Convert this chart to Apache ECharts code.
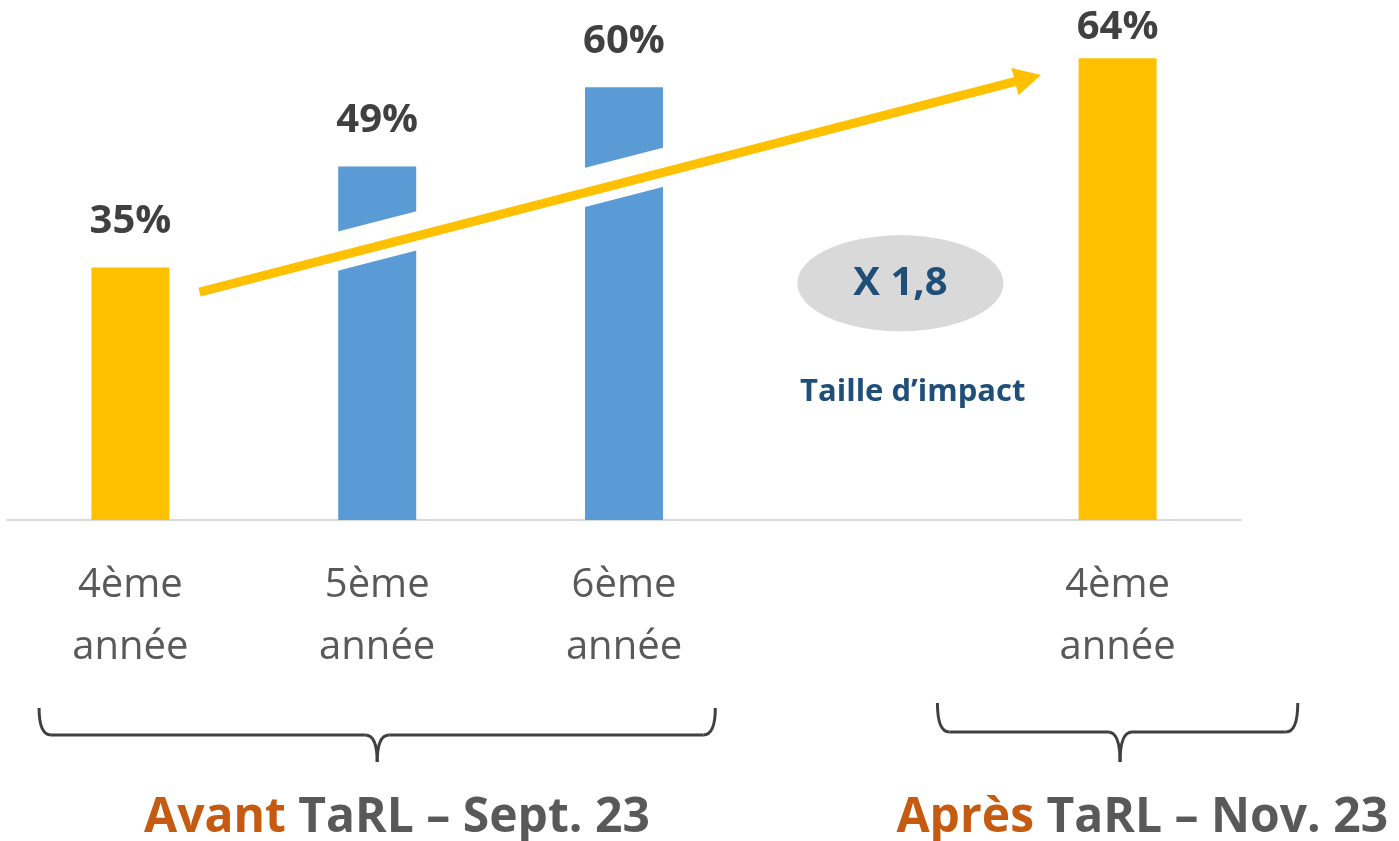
<!DOCTYPE html>
<html>
<head>
<meta charset="utf-8">
<script src="https://cdn.jsdelivr.net/npm/echarts@6/dist/echarts.min.js"></script>
<style>
  html, body { margin: 0; padding: 0; background: #fff; }
  #chart { width: 1399px; height: 841px; }
</style>
</head>
<body>
<div id="chart"></div>
<script>
// données
const categories = ['4ème\nannée', '5ème\nannée', '6ème\nannée', '', '4ème\nannée']
const values = [35, 49, 60, null, 64]
const barColors = ['#FFC000', '#5B9BD5', '#5B9BD5', '#FFC000', '#FFC000']
const impactText = 'X 1,8'
const impactLabel = 'Taille d’impact'
const periodLabels = [
  { strong: 'Avant', rest: 'TaRL – Sept. 23' },
  { strong: 'Après', rest: 'TaRL – Nov. 23' }
]

const FONT = '"Open Sans", sans-serif'
const chart = echarts.init(document.getElementById('chart'))

const option = {
  animation: false,
  backgroundColor: '#fff',
  grid: { left: 7, right: 158, top: 15, bottom: 321, containLabel: false },
  xAxis: {
    type: 'category',
    data: categories,
    axisLine: { lineStyle: { color: '#D9D9D9', width: 2 } },
    axisTick: { show: false },
    axisLabel: {
      color: '#595959',
      fontFamily: FONT,
      fontSize: 40,
      lineHeight: 62,
      margin: 35
    }
  },
  yAxis: {
    type: 'value',
    min: 0,
    max: 70,
    show: false,
    splitLine: { show: false }
  },
  series: [{
    type: 'bar',
    barWidth: 78,
    data: values.map((v, i) => ({
      value: v,
      itemStyle: { color: barColors[i] },
      // la dernière étiquette est collée à la barre (haut du cadre)
      label: i === values.length - 1 ? { distance: 11 } : undefined
    })),
    label: {
      show: true,
      position: 'top',
      distance: 26,
      color: '#404040',
      fontFamily: FONT,
      fontWeight: 'bold',
      fontSize: 40,
      formatter: p => p.value + '%'
    },
    z: 2
  }]
}
chart.setOption(option)

// flèche et annotations, positionnées via les axes
const c0 = chart.convertToPixel({ xAxisIndex: 0 }, 0)
const c1 = chart.convertToPixel({ xAxisIndex: 0 }, 1)
const step = c1 - c0
const px = c => c0 + c * step
const py = v => chart.convertToPixel({ yAxisIndex: 0 }, v)

const ax1 = px(0.28), ay1 = py(31.6)
const ax2 = px(3.69), ay2 = py(61.7)
const ang = Math.atan2(ay2 - ay1, ax2 - ax1)
const headLen = 27, headW = 14
const bx = ax2 - headLen * Math.cos(ang), by = ay2 - headLen * Math.sin(ang)
const nx = -Math.sin(ang), ny = Math.cos(ang)

const baseY = py(0)
const braceStyle = { stroke: '#404040', lineWidth: 3, fill: null }
function brace(x1, x2, xm, top, mid, tip) {
  const r = 12
  return [
    { type: 'bezierCurve', z: 100, shape: { x1: x1, y1: top, cpx1: x1, cpy1: mid, x2: x1 + r, y2: mid }, style: braceStyle },
    { type: 'line', z: 100, shape: { x1: x1 + r, y1: mid, x2: xm - r, y2: mid }, style: braceStyle },
    { type: 'bezierCurve', z: 100, shape: { x1: xm - r, y1: mid, cpx1: xm, cpy1: mid, x2: xm, y2: tip }, style: braceStyle },
    { type: 'bezierCurve', z: 100, shape: { x1: xm + r, y1: mid, cpx1: xm, cpy1: mid, x2: xm, y2: tip }, style: braceStyle },
    { type: 'line', z: 100, shape: { x1: xm + r, y1: mid, x2: x2 - r, y2: mid }, style: braceStyle },
    { type: 'bezierCurve', z: 100, shape: { x1: x2, y1: top, cpx1: x2, cpy1: mid, x2: x2 - r, y2: mid }, style: braceStyle }
  ]
}

const graphics = [
  {
    type: 'line', z: 100,
    shape: { x1: ax1 - 5 * nx, y1: ay1 - 5 * ny, x2: bx - 5 * nx, y2: by - 5 * ny },
    style: { stroke: '#fff', lineWidth: 38 }
  },
  {
    type: 'line', z: 101,
    shape: { x1: ax1, y1: ay1, x2: bx + 2 * Math.cos(ang), y2: by + 2 * Math.sin(ang) },
    style: { stroke: '#FFC000', lineWidth: 9 }
  },
  {
    type: 'polygon', z: 101,
    shape: { points: [[ax2, ay2], [bx + headW * nx, by + headW * ny], [bx - headW * nx, by - headW * ny]] },
    style: { fill: '#FFC000' }
  },
  {
    type: 'ellipse', z: 100,
    shape: { cx: px(3.12), cy: py(32.8), rx: 103, ry: 48 },
    style: { fill: '#D9D9D9' }
  },
  {
    type: 'text', z: 101, x: px(3.12), y: py(32.8),
    style: {
      text: impactText, fill: '#1F4E79', font: 'bold 40px ' + FONT,
      align: 'center', verticalAlign: 'middle'
    }
  },
  {
    type: 'text', z: 101, x: px(3.17), y: py(17.7),
    style: {
      text: impactLabel, fill: '#1F4E79', font: 'bold 31px ' + FONT,
      align: 'center', verticalAlign: 'middle'
    }
  }
]
  .concat(brace(px(-0.37), px(2.37), px(1.0), baseY + 188, baseY + 215, baseY + 242))
  .concat(brace(px(3.27), px(4.73), px(4.01), baseY + 183, baseY + 212, baseY + 242))
  .concat(periodLabels.map((p, i) => ({
    type: 'text', z: 100,
    x: i === 0 ? px(1.08) : px(4.1),
    y: baseY + 298,
    style: {
      text: `{o|${p.strong}}{g| ${p.rest}}`,
      align: 'center', verticalAlign: 'middle',
      rich: {
        o: { fill: '#C55A11', fontFamily: FONT, fontWeight: 'bold', fontSize: 48 },
        g: { fill: '#595959', fontFamily: FONT, fontWeight: 'bold', fontSize: 48 }
      }
    }
  })))

chart.setOption({ graphic: graphics })

window.addEventListener('resize', () => chart.resize())
</script>
</body>
</html>
